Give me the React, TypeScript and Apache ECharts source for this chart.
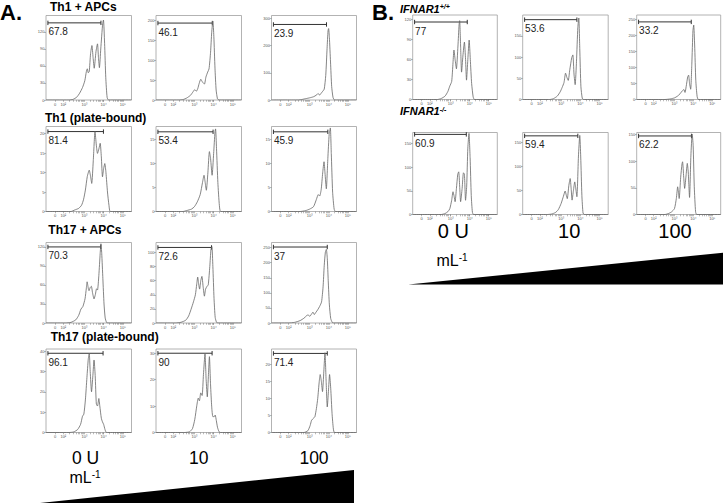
import React, { useEffect, useRef } from 'react';
import * as echarts from 'echarts';

// ---------- axis ticks ----------
const xTickValues = [1.47, 1.9, 3, 4, 5];
const xTickLabels = ['0', '10²', '10³', '10⁴', '10⁵'];
const xMinorFactors = [2, 3, 4, 5, 6, 7, 8, 9];

// ---------- texts ----------
const panelATitles = ['Th1 + APCs', 'Th1 (plate-bound)', 'Th17 + APCs', 'Th17 (plate-bound)'];
const panelBTitles = ['IFNAR1', 'IFNAR1'];
const panelBTitleSups = ['+/+', '-/-'];
const doseLabels = ['0 U', '10', '100'];

// ---------- Panel A histograms [position, count] ----------
const aTh1Apc0 = [[1,0],[2.2,0],[2.4,1],[2.6,5],[2.75,12],[2.9,22],[3.02,34],[3.1,50],[3.15,55],[3.2,48],[3.25,50],[3.32,82],[3.39,96],[3.45,75],[3.51,56],[3.6,85],[3.68,99],[3.73,75],[3.78,57],[3.85,90],[3.95,135],[3.99,141],[4.05,100],[4.11,40],[4.18,5],[4.25,0],[5.45,0]];
const aTh1Apc10 = [[1,0],[2.2,0],[2.4,1],[2.6,5],[2.8,12],[2.92,20],[3.02,26],[3.1,22],[3.17,28],[3.25,42],[3.33,52],[3.42,45],[3.52,40],[3.6,58],[3.69,70],[3.76,78],[3.84,120],[3.9,170],[3.96,198],[4.01,160],[4.07,80],[4.13,25],[4.2,3],[4.27,0],[5.45,0]];
const aTh1Apc100 = [[1,0],[2.4,0],[2.6,2],[2.8,5],[3.0,8],[3.2,12],[3.35,18],[3.44,24],[3.52,18],[3.6,25],[3.68,32],[3.76,40],[3.84,90],[3.91,190],[3.96,255],[3.99,263],[4.03,230],[4.09,140],[4.15,50],[4.22,10],[4.3,0],[5.45,0]];

const aTh1Pb0 = [[1,0],[2.3,0],[2.5,0.4],[2.7,0.8],[2.85,1.6],[2.95,3],[3.05,5.5],[3.15,9],[3.25,10.6],[3.32,9],[3.38,7.2],[3.46,13],[3.55,20.5],[3.62,17],[3.68,14.9],[3.75,16],[3.82,17.5],[3.88,14],[3.94,8.9],[4.0,11],[4.06,12.3],[4.12,10],[4.2,5],[4.28,1.5],[4.35,0],[5.45,0]];
const aTh1Pb10 = [[1,0],[2.4,0],[2.6,0.2],[2.85,0.5],[3.0,1],[3.15,2],[3.3,3.5],[3.42,6],[3.5,7.5],[3.56,6],[3.62,4.4],[3.7,8],[3.78,12.4],[3.84,11],[3.92,7.5],[4.0,12],[4.07,16.5],[4.1,17.1],[4.15,13],[4.22,6],[4.3,1.2],[4.37,0],[5.45,0]];
const aTh1Pb100 = [[1,0],[2.5,0],[2.8,0.2],[3.0,0.5],[3.2,1],[3.35,2.5],[3.45,3.5],[3.52,3.2],[3.6,4.5],[3.68,8],[3.75,10.3],[3.8,8],[3.87,4.7],[3.95,11],[4.02,16],[4.08,17.3],[4.13,12],[4.2,4],[4.28,0.5],[4.35,0],[5.45,0]];

const aTh17Apc0 = [[1,0],[2.0,0],[2.3,1],[2.55,5],[2.7,12],[2.82,22],[2.92,26],[3.03,38],[3.1,55],[3.14,65],[3.2,55],[3.24,51],[3.3,56],[3.36,58],[3.42,48],[3.5,38],[3.57,45],[3.63,54],[3.68,52],[3.75,75],[3.82,110],[3.86,125],[3.9,110],[3.96,70],[4.02,30],[4.08,8],[4.15,1],[4.22,0],[5.45,0]];
const aTh17Apc10 = [[1,0],[2.0,0],[2.3,1],[2.55,4],[2.7,10],[2.82,19],[2.95,30],[3.05,40],[3.12,55],[3.17,65],[3.22,55],[3.27,48],[3.33,60],[3.39,66],[3.45,52],[3.52,38],[3.58,48],[3.66,52],[3.72,54],[3.8,80],[3.86,104],[3.91,108],[3.96,80],[4.02,35],[4.08,8],[4.15,1],[4.22,0],[5.45,0]];
const aTh17Apc100 = [[1,0],[1.9,0],[2.2,2],[2.5,8],[2.7,16],[2.85,25],[2.92,27],[3.0,22],[3.1,30],[3.17,36],[3.24,28],[3.32,35],[3.42,44],[3.52,55],[3.62,70],[3.7,120],[3.76,190],[3.82,235],[3.87,244],[3.92,215],[3.97,140],[4.03,60],[4.1,15],[4.18,2],[4.25,0],[5.45,0]];

const aTh17Pb0 = [[1,0],[2.2,0],[2.45,0.3],[2.65,1.5],[2.8,4],[2.9,8],[2.97,9],[3.05,16],[3.13,27],[3.2,36],[3.25,39],[3.3,30],[3.37,20],[3.44,28],[3.5,35.6],[3.56,28],[3.62,14],[3.68,13],[3.75,16.7],[3.8,13],[3.88,7],[3.94,5.2],[4.0,4],[4.07,1.5],[4.15,0],[5.45,0]];
const aTh17Pb10 = [[1,0],[2.5,0],[2.75,0.3],[2.9,1.5],[3.02,5],[3.12,10],[3.2,13],[3.26,12],[3.33,15],[3.4,14],[3.47,22],[3.55,29.7],[3.61,20],[3.67,13.5],[3.73,22],[3.78,28.7],[3.84,18],[3.9,9.7],[3.96,6],[4.03,6],[4.08,6.6],[4.14,4.5],[4.2,2],[4.28,0.3],[4.35,0],[5.45,0]];
const aTh17Pb100 = [[1,0],[2.7,0],[2.9,0.5],[3.02,2],[3.1,3.6],[3.2,4.2],[3.27,4.6],[3.35,7],[3.42,10],[3.5,15],[3.55,17],[3.61,15],[3.67,12],[3.74,18],[3.8,23.4],[3.86,15],[3.92,7.5],[3.98,12],[4.04,17],[4.1,13],[4.17,5.6],[4.24,1],[4.3,0],[5.45,0]];

const yMaxA = [[149, 212, 311], [21.8, 17.6, 17.6], [127, 114, 267], [41, 31.6, 24.5]];
const yStepA = [[30, 50, 100], [5, 5, 5], [30, 20, 50], [10, 10, 5]];
const gateStart = 1.1;
const gateEndA = [[3.86, 3.93, 3.88], [3.99, 3.97, 3.95], [3.85, 3.89, 3.92], [3.97, 3.92, 3.92]];
const gateYA = [[136, 193, 278], [20.5, 16.5, 16.5], [120, 107, 252], [38.9, 30, 23.2]];
const gatePctA = [[67.8, 46.1, 23.9], [81.4, 53.4, 45.9], [70.3, 72.6, 37], [96.1, 90, 71.4]];

// ---------- Panel B histograms ----------
const bWt0 = [[1,0],[2.3,0],[2.5,1.5],[2.7,5],[2.85,12],[2.95,20],[3.05,27],[3.12,55],[3.17,74],[3.23,60],[3.3,46],[3.38,80],[3.44,112],[3.47,118],[3.52,80],[3.57,41],[3.64,65],[3.72,86],[3.78,60],[3.83,29],[3.9,60],[3.97,89],[4.03,60],[4.1,24],[4.18,4],[4.25,0],[5.45,0]];
const bWt10 = [[1,0],[2.4,0],[2.6,2],[2.8,8],[2.95,18],[3.05,28],[3.15,40],[3.23,62],[3.3,52],[3.37,45],[3.45,70],[3.55,98],[3.61,105],[3.67,60],[3.73,35],[3.8,90],[3.87,170],[3.92,192],[3.97,120],[4.03,30],[4.1,3],[4.17,0],[5.45,0]];
const bWt100 = [[1,0],[2.5,0],[2.8,2],[3.0,5],[3.15,10],[3.3,18],[3.4,26],[3.5,31],[3.56,22],[3.62,40],[3.7,70],[3.75,76],[3.8,50],[3.86,32],[3.92,110],[3.98,215],[4.02,232],[4.07,170],[4.13,60],[4.2,10],[4.27,0],[5.45,0]];
const bKo0 = [[1,0],[2.5,0],[2.7,2],[2.85,6],[2.95,12],[3.05,30],[3.12,48],[3.18,38],[3.23,27],[3.3,55],[3.37,85],[3.42,90],[3.47,60],[3.52,27],[3.6,55],[3.67,88],[3.72,85],[3.78,30],[3.84,60],[3.9,140],[3.96,171],[4.02,120],[4.08,40],[4.14,5],[4.2,0],[5.45,0]];
const bKo10 = [[1,0],[2.3,0],[2.5,1],[2.7,4],[2.85,10],[3.0,23],[3.12,38],[3.21,49],[3.27,40],[3.32,33],[3.4,60],[3.47,75],[3.52,55],[3.57,30],[3.64,50],[3.71,68],[3.76,55],[3.82,37],[3.9,120],[3.97,165],[4.02,120],[4.08,40],[4.14,3],[4.2,0],[5.45,0]];
const bKo100 = [[1,0],[2.5,0],[2.7,2],[2.85,5],[3.0,11],[3.1,30],[3.17,52],[3.21,42],[3.25,30],[3.33,70],[3.4,95],[3.43,99],[3.49,70],[3.54,49],[3.62,75],[3.68,96],[3.73,80],[3.8,32],[3.87,110],[3.94,151],[3.99,130],[4.05,52],[4.12,5],[4.18,0],[5.45,0]];

const yMaxB = [[126.5, 199, 263.5], [173, 171, 154]];
const yStepB = [[30, 50, 50], [50, 50, 50]];
const gateEndB = [[3.87, 3.82, 3.89], [3.82, 3.87, 3.9]];
const gateYB = [[116, 188, 242], [169, 164, 147.5]];
const gatePctB = [[77, 53.6, 33.2], [60.9, 59.4, 62.2]];

const histA = [
  [aTh1Apc0, aTh1Apc10, aTh1Apc100],
  [aTh1Pb0, aTh1Pb10, aTh1Pb100],
  [aTh17Apc0, aTh17Apc10, aTh17Apc100],
  [aTh17Pb0, aTh17Pb10, aTh17Pb100],
];
const histB = [
  [bWt0, bWt10, bWt100],
  [bKo0, bKo10, bKo100],
];

// ---------- layout ----------
const aRowTops = [15.5, 126.5, 242.5, 349];
const aRowHeights = [84.5, 85, 80.5, 83.5];
const aColLefts = [46, 156, 271.5];
const aColWidths = [85.5, 85.5, 85];
const bRowTops = [15, 132.5];
const bRowHeights = [84.5, 82];
const bColLefts = [412.7, 522.7, 636.7];
const bColWidths = [84.6, 85.5, 84];

const FONT = '"Liberation Sans", Arial, Helvetica, sans-serif';

function buildOption() {
  const grids: any[] = [];
  const xAxes: any[] = [];
  const yAxes: any[] = [];
  const series: any[] = [];

  const minorTicks: number[] = [];
  [3, 4].forEach((d) => xMinorFactors.forEach((k) => minorTicks.push(d + Math.log10(k))));
  xMinorFactors.forEach((k) => minorTicks.push(1.9 + 1.1 * Math.log10(k)));
  const allXTicks = xTickValues.concat(minorTicks);

  const addPlot = (rect: number[], hist: number[][], yMax: number, yStep: number,
    gEnd: number, gY: number, pct: number) => {
    const i = grids.length;
    grids.push({
      left: rect[0], top: rect[1], width: rect[2], height: rect[3],
      show: true, borderColor: '#a0a0a0', borderWidth: 0.8, backgroundColor: 'transparent',
      containLabel: false,
    });
    const yTicks: number[] = [];
    for (let v = 0; v <= yMax + 1e-9; v += yStep) yTicks.push(v);
    xAxes.push({
      type: 'value', gridIndex: i, min: 1, max: 5.45,
      axisLine: { show: false }, splitLine: { show: false },
      axisTick: { show: true, length: 1.8, customValues: allXTicks, lineStyle: { color: '#777', width: 0.5 } },
      axisLabel: {
        show: true, customValues: xTickValues, fontSize: 4, margin: 2, color: '#555', fontFamily: FONT,
        formatter: (v: number) => {
          const k = xTickValues.findIndex((t) => Math.abs(t - v) < 1e-6);
          return k >= 0 ? xTickLabels[k] : '';
        },
      },
    });
    yAxes.push({
      type: 'value', gridIndex: i, min: 0, max: yMax, interval: yStep,
      axisLine: { show: false }, splitLine: { show: false },
      axisTick: { show: true, length: 1.8, customValues: yTicks, lineStyle: { color: '#777', width: 0.5 } },
      axisLabel: { show: true, customValues: yTicks, fontSize: 4, margin: 1.5, color: '#555', fontFamily: FONT },
    });
    series.push({
      type: 'line', xAxisIndex: i, yAxisIndex: i, data: hist, showSymbol: false, symbol: 'none',
      smooth: 0.2, silent: true,
      lineStyle: { color: '#666', width: 0.8 },
    });
    series.push({
      type: 'custom', xAxisIndex: i, yAxisIndex: i, coordinateSystem: 'cartesian2d', silent: true,
      encode: { x: [0, 1], y: 2 },
      data: [[gateStart, gEnd, gY, pct]],
      renderItem: (params: any, api: any) => {
        const s = api.coord([api.value(0), api.value(2)]);
        const e = api.coord([api.value(1), api.value(2)]);
        const ls = { stroke: '#333', lineWidth: 1 };
        return {
          type: 'group',
          children: [
            { type: 'line', shape: { x1: s[0], y1: s[1], x2: e[0], y2: e[1] }, style: ls },
            { type: 'line', shape: { x1: s[0], y1: s[1] - 2.2, x2: s[0], y2: s[1] + 2.2 }, style: ls },
            { type: 'line', shape: { x1: e[0], y1: e[1] - 2.2, x2: e[0], y2: e[1] + 2.2 }, style: ls },
            {
              type: 'text', x: s[0] + 0.5, y: s[1] + 4,
              style: {
                text: String(api.value(3)), fontSize: 10, fontFamily: FONT, fill: '#222',
                align: 'left', verticalAlign: 'top',
              },
            },
          ],
        };
      },
    });
  };

  histA.forEach((row, r) => row.forEach((hist, c) => {
    addPlot([aColLefts[c], aRowTops[r], aColWidths[c], aRowHeights[r]], hist,
      yMaxA[r][c], yStepA[r][c], gateEndA[r][c], gateYA[r][c], gatePctA[r][c]);
  }));
  histB.forEach((row, r) => row.forEach((hist, c) => {
    addPlot([bColLefts[c], bRowTops[r], bColWidths[c], bRowHeights[r]], hist,
      yMaxB[r][c], yStepB[r][c], gateEndB[r][c], gateYB[r][c], gatePctB[r][c]);
  }));

  const txt = (text: string, x: number, y: number, size: number, weight: string, align: string, extra: any = {}) => ({
    type: 'text', x, y, silent: true,
    style: {
      text, fontSize: size, fontWeight: weight, fontFamily: FONT, fill: '#000',
      align, verticalAlign: 'middle', textAlign: align, textVerticalAlign: 'middle', ...extra,
    },
  });

  const aTitlePos = [[50, 6.9], [45, 118], [48.3, 229.8], [50.7, 337.2]];
  const elements: any[] = [];
  elements.push(txt('A.', 0, 12.5, 22, 'bold', 'left'));
  elements.push(txt('B.', 372, 12.5, 22, 'bold', 'left'));
  panelATitles.forEach((t, r) => elements.push(txt(t, aTitlePos[r][0], aTitlePos[r][1], 12, 'bold', 'left')));
  const bTitleY = [8.7, 111];
  panelBTitles.forEach((t, r) => elements.push({
    type: 'text', x: 400, y: bTitleY[r], silent: true,
    style: {
      text: `{m|${t}}{s|${panelBTitleSups[r]}}`,
      align: 'left', verticalAlign: 'middle', textAlign: 'left', textVerticalAlign: 'middle',
      rich: {
        m: { fontSize: 11, fontWeight: 'bold', fontStyle: 'italic', fontFamily: FONT, fill: '#000', color: '#000' },
        s: { fontSize: 7, fontWeight: 'bold', fontStyle: 'italic', fontFamily: FONT, fill: '#000', color: '#000', verticalAlign: 'top', padding: [0, 0, 4, 0] },
      },
    },
  }));
  const aDoseX = [85.5, 198.8, 314];
  doseLabels.forEach((t, c) => elements.push(txt(t, aDoseX[c], 458, 17.5, 'normal', 'center')));
  const bDoseX = [453.3, 569.2, 675];
  doseLabels.forEach((t, c) => elements.push(txt(t, bDoseX[c], 231.2, 20, 'normal', 'center')));
  const unitPos = [[85, 477.5], [452, 260.3]];
  unitPos.forEach((p) => elements.push({
    type: 'text', x: p[0], y: p[1], silent: true,
    style: {
      text: '{m|mL}{s|-1}',
      align: 'center', verticalAlign: 'middle', textAlign: 'center', textVerticalAlign: 'middle',
      rich: {
        m: { fontSize: 16, fontFamily: FONT, fill: '#000', color: '#000' },
        s: { fontSize: 10, fontFamily: FONT, fill: '#000', color: '#000', verticalAlign: 'top', padding: [0, 0, 5, 0] },
      },
    },
  }));
  elements.push({
    type: 'polygon', silent: true,
    shape: { points: [[40, 503], [354, 470], [354, 503]] },
    style: { fill: '#000' },
  });
  elements.push({
    type: 'polygon', silent: true,
    shape: { points: [[408.3, 284.5], [723, 252.7], [723, 284.5]] },
    style: { fill: '#000' },
  });

  return {
    animation: false,
    backgroundColor: '#fff',
    grid: grids,
    xAxis: xAxes,
    yAxis: yAxes,
    series,
    graphic: { elements },
  };
}

export default function App() {
  const ref = useRef<HTMLDivElement>(null);
  useEffect(() => {
    document.body.style.margin = '0';
    const chart = echarts.init(ref.current as HTMLDivElement, undefined, { renderer: 'svg' });
    chart.setOption(buildOption() as any);
    return () => chart.dispose();
  }, []);
  return <div ref={ref} style={{ position: 'absolute', left: 0, top: 0, width: 723, height: 504 }} />;
}
